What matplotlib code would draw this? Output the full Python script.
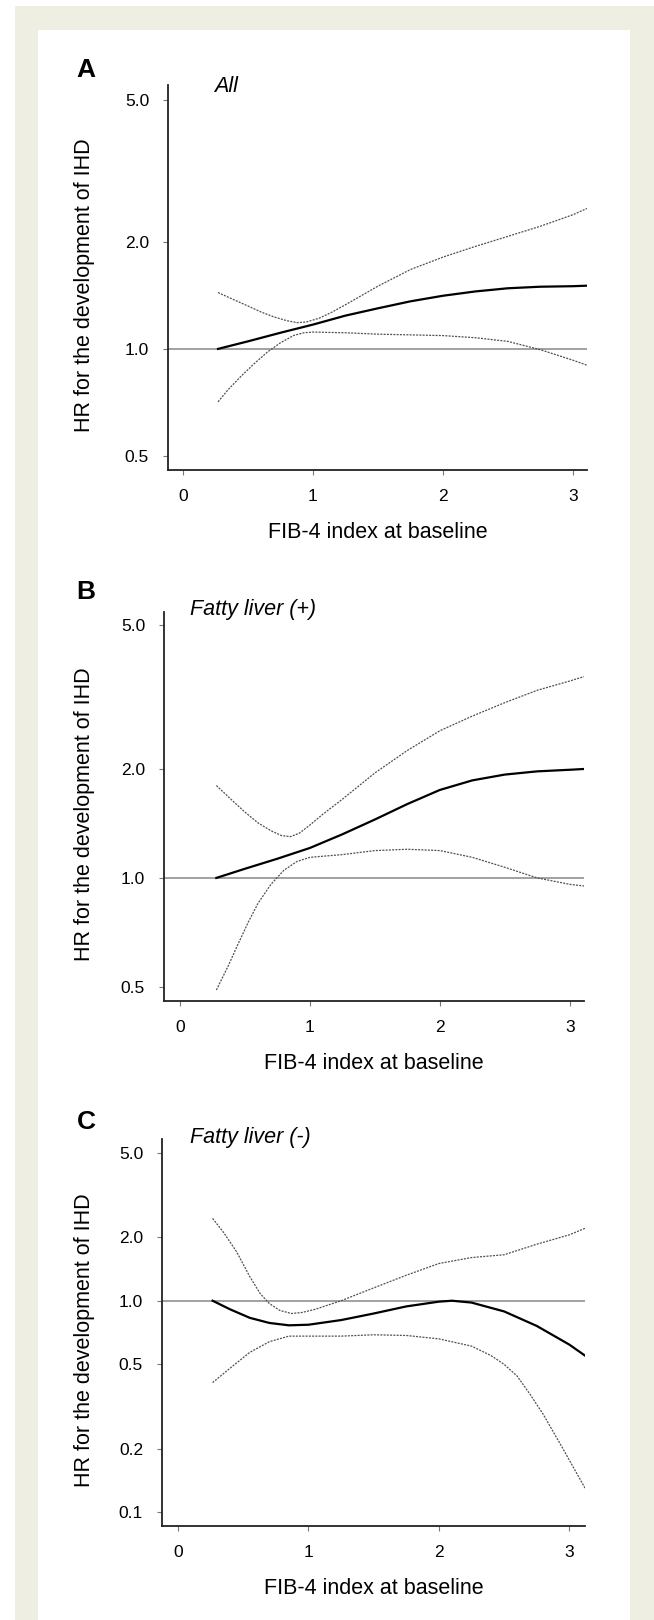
import matplotlib
matplotlib.use("Agg")
import matplotlib.pyplot as plt
from matplotlib.patches import Rectangle
from matplotlib.ticker import FixedLocator, NullLocator

plt.rcParams['font.family'] = ['Liberation Sans', 'DejaVu Sans']

# ---- data ----
# panel A: all
a_x = [0.27, 0.5, 0.75, 1.0, 1.25, 1.5, 1.75, 2.0, 2.25, 2.5, 2.75, 3.0, 3.11]
a_hr = [1.0, 1.05, 1.11, 1.17, 1.24, 1.30, 1.36, 1.41, 1.45, 1.48, 1.495, 1.50, 1.505]
a_up_x = [0.27, 0.4, 0.5, 0.6, 0.7, 0.8, 0.88, 0.95, 1.05, 1.15, 1.25, 1.5, 1.75, 2.0, 2.25, 2.5, 2.75, 3.0, 3.11]
a_up = [1.44, 1.37, 1.32, 1.27, 1.23, 1.20, 1.185, 1.19, 1.22, 1.27, 1.33, 1.50, 1.67, 1.81, 1.94, 2.07, 2.21, 2.38, 2.48]
a_lo_x = [0.27, 0.35, 0.45, 0.55, 0.65, 0.75, 0.85, 0.93, 1.0, 1.25, 1.5, 1.75, 2.0, 2.25, 2.5, 2.75, 3.0, 3.11]
a_lo = [0.71, 0.77, 0.84, 0.91, 0.98, 1.04, 1.09, 1.11, 1.115, 1.11, 1.10, 1.095, 1.09, 1.075, 1.05, 0.995, 0.93, 0.90]

# panel B: fatty liver (+)
b_x = [0.28, 0.5, 0.75, 1.0, 1.25, 1.5, 1.75, 2.0, 2.25, 2.5, 2.75, 3.0, 3.11]
b_hr = [1.0, 1.06, 1.13, 1.21, 1.32, 1.45, 1.60, 1.75, 1.86, 1.93, 1.97, 1.99, 2.0]
b_up_x = [0.28, 0.4, 0.5, 0.6, 0.7, 0.78, 0.85, 0.92, 1.0, 1.1, 1.25, 1.5, 1.75, 2.0, 2.25, 2.5, 2.75, 3.0, 3.11]
b_up = [1.80, 1.64, 1.52, 1.42, 1.35, 1.31, 1.30, 1.33, 1.40, 1.50, 1.65, 1.95, 2.25, 2.55, 2.80, 3.05, 3.30, 3.50, 3.60]
b_lo_x = [0.28, 0.37, 0.45, 0.53, 0.6, 0.7, 0.8, 0.9, 1.0, 1.25, 1.5, 1.75, 2.0, 2.25, 2.5, 2.75, 3.0, 3.11]
b_lo = [0.49, 0.57, 0.66, 0.76, 0.85, 0.96, 1.05, 1.11, 1.14, 1.16, 1.19, 1.20, 1.19, 1.14, 1.07, 1.0, 0.96, 0.95]

# panel C: fatty liver (-)
c_x = [0.265, 0.4, 0.55, 0.7, 0.85, 1.0, 1.25, 1.5, 1.75, 2.0, 2.1, 2.25, 2.5, 2.75, 3.0, 3.12]
c_hr = [1.0, 0.91, 0.83, 0.785, 0.765, 0.77, 0.81, 0.87, 0.94, 0.99, 1.0, 0.98, 0.89, 0.76, 0.62, 0.55]
c_up_x = [0.265, 0.35, 0.45, 0.55, 0.63, 0.7, 0.78, 0.87, 0.95, 1.05, 1.25, 1.5, 1.75, 2.0, 2.25, 2.5, 2.75, 3.0, 3.12]
c_up = [2.45, 2.1, 1.7, 1.3, 1.08, 0.97, 0.90, 0.87, 0.88, 0.91, 1.0, 1.15, 1.32, 1.5, 1.6, 1.65, 1.85, 2.05, 2.2]
c_lo_x = [0.265, 0.4, 0.55, 0.7, 0.85, 1.0, 1.25, 1.5, 1.75, 2.0, 2.25, 2.4, 2.5, 2.6, 2.7, 2.8, 2.95, 3.12]
c_lo = [0.41, 0.48, 0.57, 0.64, 0.68, 0.68, 0.68, 0.69, 0.685, 0.66, 0.61, 0.55, 0.50, 0.44, 0.36, 0.29, 0.20, 0.13]

x_ticks = [0, 1, 2, 3]
ab_yticks = [0.5, 1.0, 2.0, 5.0]
c_yticks = [0.1, 0.2, 0.5, 1.0, 2.0, 5.0]

W, H = 654, 1620
fig = plt.figure(figsize=(W / 100, H / 100), dpi=100)
fig.patch.set_facecolor('white')

def box(l, t, r, b):
    return [l / W, 1 - b / H, (r - l) / W, (b - t) / H]

# beige frame and white panel (behind everything)
fig.patches.append(Rectangle((15 / W, 0), 1 - 15 / W, 1 - 6 / H, transform=fig.transFigure,
                             facecolor='#efeee3', edgecolor='none', zorder=-20))
fig.patches.append(Rectangle((38 / W, 0), (630 - 38) / W, 1 - 30 / H, transform=fig.transFigure,
                             facecolor='white', edgecolor='none', zorder=-10))

panels = [
    # letter, title, position, ylim, yticks, xlim, curves, letter y, title x/y
    ('A', 'All', box(168, 85, 587, 470), (0.457, 5.51), ab_yticks, (-0.115, 3.11),
     (a_x, a_hr, a_up_x, a_up, a_lo_x, a_lo), 70, 214, 87),
    ('B', 'Fatty liver (+)', box(164, 612, 584, 1001), (0.457, 5.43), ab_yticks, (-0.123, 3.11),
     (b_x, b_hr, b_up_x, b_up, b_lo_x, b_lo), 592, 190, 609),
    ('C', 'Fatty liver (-)', box(162, 1139, 585, 1526), (0.086, 5.82), c_yticks, (-0.123, 3.12),
     (c_x, c_hr, c_up_x, c_up, c_lo_x, c_lo), 1122, 190, 1137),
]

for letter, title, pos, ylim, yt, xlim, curves, ly, tx, ty in panels:
    ax = fig.add_axes(pos)
    ax.set_facecolor('none')
    ax.set_yscale('log')
    ax.set_ylim(*ylim)
    ax.set_xlim(*xlim)
    xs, hr, ux, up, lx, lo = curves
    ax.axhline(1.0, color='#9a9a9a', lw=1.3, zorder=1)
    ax.plot(ux, up, color='#505050', lw=0.9, ls=(0, (1.6, 1.0)), zorder=2)
    ax.plot(lx, lo, color='#505050', lw=0.9, ls=(0, (1.6, 1.0)), zorder=2)
    ax.plot(xs, hr, color='black', lw=1.6, zorder=3)

    ax.yaxis.set_major_locator(FixedLocator(yt))
    ax.yaxis.set_minor_locator(NullLocator())
    ax.set_yticklabels(['%.1f' % v for v in yt])
    ax.set_xticks(x_ticks)
    ax.set_xticklabels([str(v) for v in x_ticks])
    for s in ['top', 'right']:
        ax.spines[s].set_visible(False)
    for s in ['left', 'bottom']:
        ax.spines[s].set_linewidth(1.3)
        ax.spines[s].set_color('#222222')
    ax.tick_params(axis='y', length=3.6, width=0.8, color='#777777', labelsize=12.5, pad=10)
    ax.tick_params(axis='x', length=3.6, width=0.8, color='#777777', labelsize=12.5, pad=10)

    ax.set_xlabel('FIB-4 index at baseline', fontsize=15.5, labelpad=13)
    ax.set_ylabel('HR for the development of IHD', fontsize=15.5)
    axw = pos[2] * W
    ax.yaxis.set_label_coords((95 - pos[0] * W) / axw, 0.48)

    fig.text(86 / W, 1 - ly / H, letter, fontsize=19, fontweight='bold',
             ha='center', va='center')
    fig.text(tx / W, 1 - ty / H, title, fontsize=15.5, style='italic',
             ha='left', va='center')

fig.savefig('out.png', dpi=100)
